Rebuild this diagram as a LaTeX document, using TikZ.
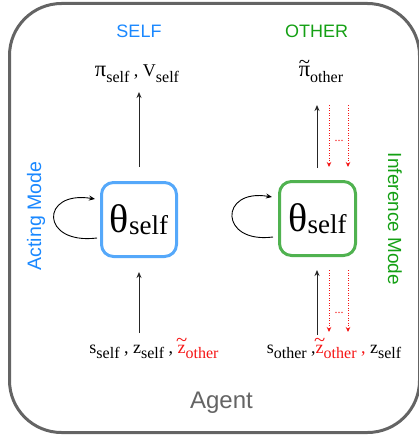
\documentclass[tikz,border=0pt]{standalone}
\usepackage{fontspec}
\setmainfont{Liberation Serif}
\newfontfamily\lsans{Liberation Sans}
\usetikzlibrary{arrows.meta,calc}
\definecolor{selfblue}{RGB}{26,136,255}
\definecolor{boxblue}{RGB}{85,168,250}
\definecolor{othgreen}{RGB}{20,160,20}
\definecolor{boxgreen}{RGB}{80,178,80}
\definecolor{agentgray}{RGB}{100,100,100}
\definecolor{dred}{RGB}{245,20,20}
\newcommand\sbs[1]{\raisebox{-0.3em}{\fontsize{16}{18}\selectfont #1}}
\newcommand\bigpi{\scalebox{1.25}{π}}
\newcommand\wt[1]{\leavevmode\setbox0=\hbox{#1}\hbox{\rlap{\hbox to \wd0{\hss\raisebox{\dimexpr\ht0-0.08em\relax}{\scalebox{1.15}[1.1]{\char"7E}}\hss}}\box0}}
\tikzset{
  lbl/.style={inner sep=0pt, anchor=base, font=\fontsize{18}{20}\selectfont},
  theta/.style={draw, line width=3pt, rounded corners=12pt, minimum width=75pt, minimum height=74pt, inner sep=0pt,
     font=\fontsize{40}{44}\selectfont},
  sanslbl/.style={inner sep=0pt, font=\lsans\fontsize{18}{20}\selectfont},
  arr/.style={line width=1pt, draw=black!85, -{Stealth[length=6pt,width=5pt]}},
  redarr/.style={line width=1pt, draw=dred, dash pattern=on 1.3pt off 1.2pt, -{Stealth[length=5pt,width=4.5pt,fill=dred]}},
  loop/.style={line width=0.9pt, draw=black, -{Stealth[length=6pt,width=5pt]}},
}
\begin{document}
\begin{tikzpicture}[x=1pt,y=-1pt]
\useasboundingbox (0,0) rectangle (419,436);
% outer agent frame
\draw[line width=3pt, draw=agentgray, rounded corners=52pt] (9.5,3.5) rectangle (419.5,432.5);
% headings
\node[sanslbl, text=selfblue] (hself) at (139,31.5) {SELF};
\node[sanslbl, text=othgreen] (hother) at (316.5,31.5) {OTHER};
\node[sanslbl, text=selfblue, rotate=90, font=\lsans\fontsize{19.5}{22}\selectfont] (acting) at (36,216) {Acting Mode};
\node[sanslbl, text=othgreen, rotate=-90, font=\lsans\fontsize{19}{22}\selectfont] (infer) at (395,219) {Inference Mode};
\node[sanslbl, text=agentgray, font=\lsans\fontsize{24}{26}\selectfont] (agent) at (221.5,403) {Agent};
% boxes
\node[theta, draw=boxblue] (bs) at (139,219.5) {θ\raisebox{-0.05em}{\fontsize{27}{30}\selectfont self}};
\node[theta, draw=boxgreen, minimum width=76pt] (gs) at (317.5,218.5) {θ\raisebox{-0.05em}{\fontsize{27}{30}\selectfont self}};
% labels
\node[lbl] (piself) at (137,77) {\bigpi\sbs{self} , V\sbs{self}};
\node[lbl] (piother) at (321,77) {\wt{\bigpi}\sbs{other}};
\node[lbl] (inself) at (154,353) {s\sbs{self} , z\sbs{self} , \textcolor{dred}{\wt{z}\sbs{other}}};
\node[lbl] (inother) at (334,353) {s\sbs{other} ,\textcolor{dred}{\wt{z}\sbs{other} ,} z\sbs{self}};
% self loops
\coordinate (bl1) at ($(bs.west)+(-3,18.5)$);
\coordinate (bl2) at ($(bs.west)+(-5,-20.5)$);
\draw[loop] (bl1) .. controls ($(bl1)+(-57,7)$) and ($(bl2)+(-55,-9)$) .. (bl2);
\coordinate (gl1) at ($(gs.west)+(-5,18.5)$);
\coordinate (gl2) at ($(gs.west)+(-6,-21.5)$);
\draw[loop] (gl1) .. controls ($(gl1)+(-54,7)$) and ($(gl2)+(-53,-9)$) .. (gl2);
% self arrows
\draw[arr] ($(bs.north)+(0,-14)$) -- (bs.north |- 0,92);
\draw[arr] (bs.south |- 0,333) -- ($(bs.south)+(0,14)$);
% other arrows
\draw[arr] ($(gs.north)+(-0.5,-12)$) -- (317,105);
\draw[arr] (317,335) -- ($(gs.south)+(-0.5,13)$);
\draw[redarr] (329,105) -- ($(gs.north)+(11.5,-13)$);
\draw[redarr] (348,105) -- ($(gs.north)+(30.5,-13)$);
\draw[redarr] ($(gs.south)+(11.5,13)$) -- (329,332);
\draw[redarr] ($(gs.south)+(30.5,13)$) -- (348,332);
\node[inner sep=0pt, anchor=base, text=dred, font=\fontsize{12}{12}\selectfont] (dots1) at (339,141) {...};
\node[inner sep=0pt, anchor=base, text=dred, font=\fontsize{12}{12}\selectfont] (dots2) at (339,313) {...};
\end{tikzpicture}
\end{document}
